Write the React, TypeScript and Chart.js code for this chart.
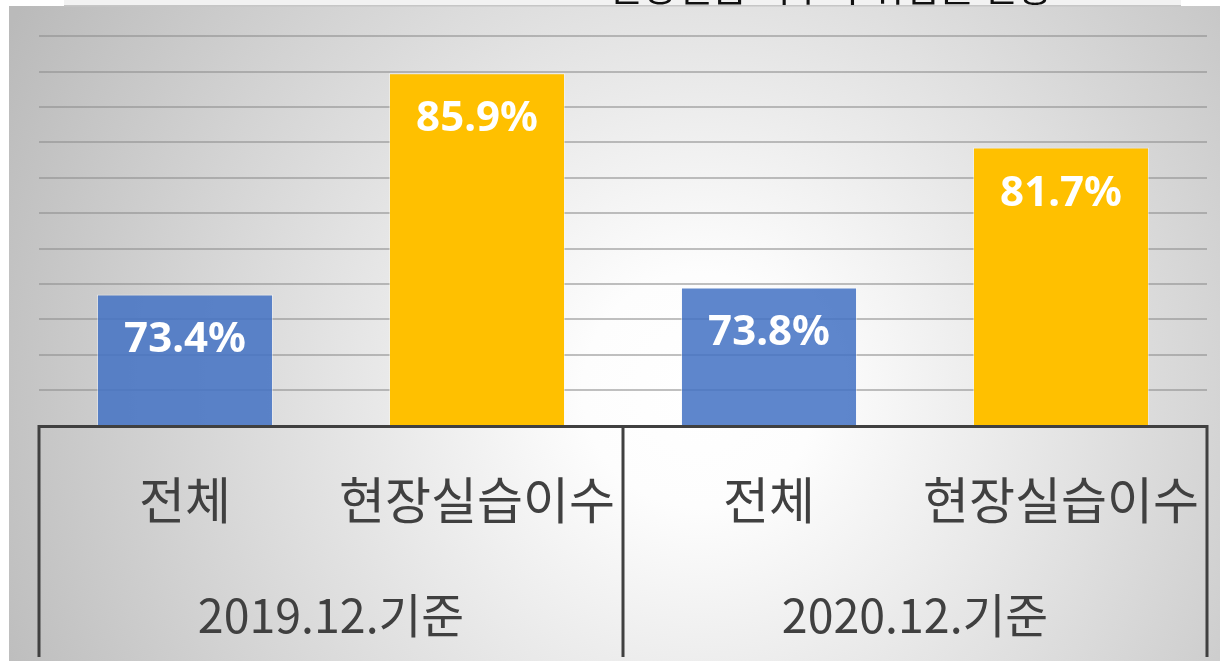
import { useEffect, useRef } from 'react';
import { Chart, registerables } from 'chart.js';

Chart.register(...registerables);

const categories = ['전체', '현장실습이수', '전체', '현장실습이수'];
const periods = ['2019.12.기준', '2020.12.기준'];
const rates = [73.4, 85.9, 73.8, 81.7];
const barColors = ['rgba(68,114,196,0.86)', '#FFC000', 'rgba(68,114,196,0.86)', '#FFC000'];
const titleText = '현장실습 이수자 취업률 현황';
const yMin = 66;
const yMax = 89;
const yStep = 2;

export default function App() {
  const ref = useRef<HTMLCanvasElement>(null);

  useEffect(() => {
    document.body.style.margin = '0';
    const canvas = ref.current;
    if (!canvas) return;

    const bgPlugin = {
      id: 'bgPanel',
      beforeDraw(chart: any) {
        const { ctx, width, height } = chart;
        ctx.save();
        ctx.fillStyle = '#ffffff';
        ctx.fillRect(0, 0, width, height);
        const g = ctx.createRadialGradient(700, 390, 0, 700, 390, 780);
        g.addColorStop(0, '#ffffff');
        g.addColorStop(0.15, '#fdfdfd');
        g.addColorStop(1, '#bababa');
        ctx.fillStyle = g;
        ctx.fillRect(9, 6, width - 9, 655);
        // title strip (title cut off above the frame)
        ctx.fillStyle = '#f2f2f2';
        ctx.fillRect(64, 0, 1117, 5);
        ctx.fillStyle = '#c6c6c6';
        ctx.fillRect(64, 5, 1117, 1.5);
        ctx.beginPath();
        ctx.rect(64, 0, 1117, 5);
        ctx.clip();
        ctx.fillStyle = '#111111';
        ctx.font = '38px "Noto Sans CJK KR"';
        ctx.textAlign = 'center';
        ctx.textBaseline = 'alphabetic';
        ctx.fillText(titleText, 830, 1);
        ctx.restore();
      },
    };

    const labelPlugin = {
      id: 'barLabels',
      afterDatasetsDraw(chart: any) {
        const { ctx } = chart;
        const meta = chart.getDatasetMeta(0);
        ctx.save();
        ctx.fillStyle = '#ffffff';
        ctx.font = 'bold 42px "Noto Sans"';
        ctx.textAlign = 'center';
        ctx.textBaseline = 'middle';
        meta.data.forEach((el: any, i: number) => {
          ctx.fillText(`${rates[i].toFixed(1)}%`, el.x, el.y + 46);
        });
        ctx.restore();
      },
    };

    const boxPlugin = {
      id: 'axisBox',
      afterDraw(chart: any) {
        const { ctx, chartArea } = chart;
        const xs = chart.scales.x2;
        const mid = (xs.getPixelForTick(0) + xs.getPixelForTick(1)) / 2;
        const bottom = 657;
        ctx.save();
        ctx.strokeStyle = '#404040';
        ctx.lineWidth = 3;
        ctx.lineCap = 'butt';
        ctx.beginPath();
        ctx.moveTo(chartArea.left - 1.5, chartArea.bottom + 1);
        ctx.lineTo(chartArea.right + 1.5, chartArea.bottom + 1);
        [chartArea.left, mid, chartArea.right].forEach((x) => {
          ctx.moveTo(x, chartArea.bottom + 1);
          ctx.lineTo(x, bottom);
        });
        ctx.stroke();
        ctx.restore();
      },
    };

    const fixHeight = (h: number) => (s: any) => {
      s.height = h;
      s.paddingLeft = 0;
      s.paddingRight = 0;
    };

    const chart = new Chart(canvas, {
      type: 'bar',
      data: {
        labels: categories,
        datasets: [
          {
            data: rates,
            backgroundColor: barColors,
            borderColor: 'rgba(255,255,255,0.45)',
            borderWidth: 1,
            barPercentage: 0.603,
            categoryPercentage: 1,
          },
        ],
      },
      options: {
        responsive: false,
        animation: false,
        events: [],
        layout: { padding: { left: 39, right: 13, top: 18.4, bottom: 6 } },
        plugins: {
          legend: { display: false },
          title: { display: false },
          tooltip: { enabled: false },
        },
        scales: {
          y: {
            min: yMin,
            max: yMax,
            ticks: { display: false, stepSize: yStep },
            border: { display: false },
            grid: {
              drawTicks: false,
              lineWidth: 2,
              color: (c: any) => {
                const v = c.tick ? c.tick.value : NaN;
                return v > yMin && v < yMax && (v - yMin) % yStep === 0
                  ? 'rgba(140,140,140,0.55)'
                  : 'rgba(0,0,0,0)';
              },
            },
            afterFit: (s: any) => {
              s.width = 0;
            },
          },
          x: {
            type: 'category',
            labels: categories,
            position: 'bottom',
            weight: 0,
            offset: true,
            grid: { display: false },
            border: { display: false },
            ticks: {
              color: '#404040',
              font: { family: '"Noto Sans CJK KR"', size: 50 },
              padding: 36,
              maxRotation: 0,
              autoSkip: false,
            },
            afterFit: fixHeight(110),
          },
          x2: {
            type: 'category',
            labels: periods,
            position: 'bottom',
            weight: 1,
            offset: true,
            grid: { display: false },
            border: { display: false },
            ticks: {
              color: '#404040',
              font: { family: '"Noto Sans CJK KR"', size: 46.5 },
              padding: 44,
              maxRotation: 0,
              autoSkip: false,
            },
            afterFit: fixHeight(121.5),
          },
        },
      },
      plugins: [bgPlugin, labelPlugin, boxPlugin],
    });

    return () => chart.destroy();
  }, []);

  return (
    <div style={{ position: 'absolute', left: 0, top: 0, width: 1220, height: 663 }}>
      <canvas ref={ref} width={1220} height={663} style={{ display: 'block', width: 1220, height: 663 }} />
    </div>
  );
}
